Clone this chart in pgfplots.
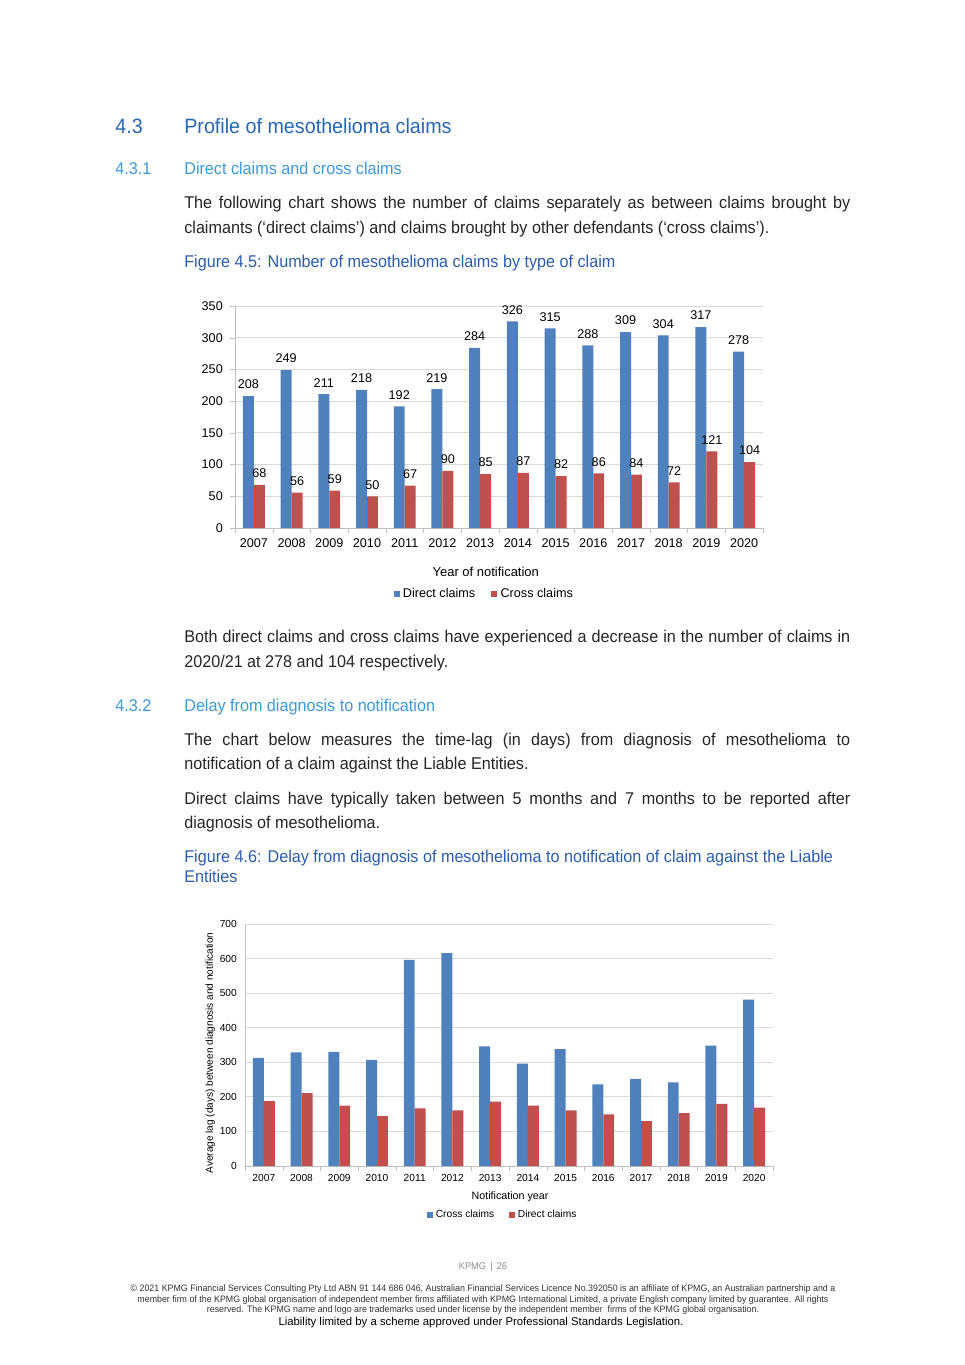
\documentclass[border=0pt]{standalone}
\usepackage{fontspec}
\setmainfont{Liberation Sans}
\newfontfamily\bodyfont{Liberation Sans}[FakeStretch=0.95]
\newfontfamily\chartfont{Liberation Sans}
\usepackage{pgfplots}
\usepackage{pgfplotstable}
\pgfplotsset{compat=1.18}

\definecolor{barblue}{HTML}{4F81BD}
\definecolor{barred}{HTML}{C0504D}
\definecolor{headblue}{HTML}{2767B4}
\definecolor{subblue}{HTML}{3D9AD6}
\definecolor{capblue}{HTML}{2C5DAA}
\definecolor{bodytext}{HTML}{262626}
\definecolor{gridgray}{HTML}{D9D9D9}
\definecolor{axisgray}{HTML}{BFBFBF}

\newcommand\body{\bodyfont\fontsize{10.5}{15}\selectfont\color{bodytext}}
\newcommand\jline[1]{\makebox[410.8pt][s]{#1}}
\newcommand\cfa{\chartfont\fontsize{7.8}{9.4}\selectfont}
\newcommand\cfb{\chartfont\fontsize{6.3}{7.6}\selectfont}

% number of claims by type
\pgfplotstableread{
x direct cross
0 208 68
1 249 56
2 211 59
3 218 50
4 192 67
5 219 90
6 284 85
7 326 87
8 315 82
9 288 86
10 309 84
11 304 72
12 317 121
13 278 104
}\claimsdata

% average lag (days) between diagnosis and notification
\pgfplotstableread{
x cross direct
0 313 188
1 329 211
2 330 175
3 307 144
4 596 167
5 616 161
6 346 186
7 296 175
8 338 161
9 236 149
10 252 130
11 242 153
12 348 180
13 481 169
}\lagdata

\pgfplotsset{
  /pgf/number format/assume math mode=true,
  excelbars/.style={
    scale only axis,
    width=325.7pt,
    ybar=0pt, bar width=0.29,
    legend image code/.code={\fill[##1] (0pt,-1.8pt) rectangle (3.6pt,1.8pt);},
    xmin=-0.5, xmax=13.5, ymin=0,
    xtick={0,...,13},
    xticklabels={2007,2008,2009,2010,2011,2012,2013,2014,2015,2016,2017,2018,2019,2020},
    minor xtick={-0.5,0.5,...,13.5},
    axis x line*=bottom, axis y line*=left,
    axis line style={axisgray},
    ymajorgrids, grid style={gridgray, line width=0.5pt},
    tick align=outside,
    major x tick style={draw=none},
    minor x tick style={axisgray},
    minor tick length=3pt,
    legend columns=2,
  },
}

\begin{document}
\begin{tikzpicture}
\begin{scope}[x=0.61685pt,y=-0.61685pt]
\useasboundingbox (0,0) rectangle (965,1365);
\fill[white] (0,0) rectangle (965,1365);
\coordinate (c1) at (235,528);
\coordinate (c2) at (245,1166);

% headings
\node[anchor=mid west, inner sep=0, text=headblue] at (115,129.5) {\bodyfont\fontsize{12.8}{15}\selectfont 4.3};
\node[anchor=mid west, inner sep=0, text=headblue] at (184,129.5) {\bodyfont\fontsize{12.8}{15}\selectfont Profile of mesothelioma claims};
\node[anchor=mid west, inner sep=0, text=subblue] at (115,170) {\bodyfont\fontsize{10.5}{15}\selectfont 4.3.1};
\node[anchor=mid west, inner sep=0, text=subblue] at (184,170) {\bodyfont\fontsize{10.5}{15}\selectfont Direct claims and cross claims};

\node[anchor=mid west, inner sep=0] at (184,204) {\body\jline{The following chart shows the number of claims separately as between claims brought by}};
\node[anchor=mid west, inner sep=0] at (184,229) {\body claimants (‘direct claims’) and claims brought by other defendants (‘cross claims’).};
\node[anchor=mid west, inner sep=0, text=capblue] at (184,263) {\bodyfont\fontsize{10.5}{15}\selectfont Figure 4.5: Number of mesothelioma claims by type of claim};

\node[anchor=mid west, inner sep=0] at (184,638) {\body\jline{Both direct claims and cross claims have experienced a decrease in the number of claims in}};
\node[anchor=mid west, inner sep=0] at (184,663) {\body 2020/21 at 278 and 104 respectively.};

\node[anchor=mid west, inner sep=0, text=subblue] at (115,707) {\bodyfont\fontsize{10.5}{15}\selectfont 4.3.2};
\node[anchor=mid west, inner sep=0, text=subblue] at (184,707) {\bodyfont\fontsize{10.5}{15}\selectfont Delay from diagnosis to notification};

\node[anchor=mid west, inner sep=0] at (184,741) {\body\jline{The chart below measures the time-lag (in days) from diagnosis of mesothelioma to}};
\node[anchor=mid west, inner sep=0] at (184,765) {\body notification of a claim against the Liable Entities.};
\node[anchor=mid west, inner sep=0] at (184,800) {\body\jline{Direct claims have typically taken between 5 months and 7 months to be reported after}};
\node[anchor=mid west, inner sep=0] at (184,824) {\body diagnosis of mesothelioma.};

\node[anchor=mid west, inner sep=0, text=capblue] at (184,858) {\bodyfont\fontsize{10.5}{15}\selectfont Figure 4.6: Delay from diagnosis of mesothelioma to notification of claim against the Liable};
\node[anchor=mid west, inner sep=0, text=capblue] at (184,878) {\bodyfont\fontsize{10.5}{15}\selectfont Entities};

% footer
\node[inner sep=0, text=black!45] at (483,1267) {\bodyfont\fontsize{6}{7}\selectfont KPMG \,|\, 26};
\node[inner sep=0, align=center, text=black!80, font={\bodyfont\fontsize{5.74}{6.5}\selectfont}] at (483,1300)
  {© 2021 KPMG Financial Services Consulting Pty Ltd ABN 91 144 686 046, Australian Financial Services Licence No.392050 is an affiliate of KPMG, an Australian partnership and a\\
   member firm of the KPMG global organisation of independent member firms affiliated with KPMG International Limited, a private English company limited by guarantee. All rights\\
   reserved. The KPMG name and logo are trademarks used under license by the independent member \ firms of the KPMG global organisation.};
\node[inner sep=0] at (481,1322.5) {\chartfont\fontsize{7}{8}\selectfont Liability limited by a scheme approved under Professional Standards Legislation.};
\end{scope}

% Figure 4.5
\begin{axis}[
  excelbars,
  at={(c1)}, anchor=south west,
  height=136.9pt,
  ymax=350, ytick={0,50,...,350},
  major tick length=3pt,
  ytick style={axisgray},
  ticklabel style={font=\cfa},
  xticklabel style={yshift=0pt},
  yticklabel style={xshift=-1pt},
  nodes near coords,
  every node near coord/.append style={font=\cfa, text=black, yshift=0.8pt},
  xlabel={Year of notification},
  xlabel style={at={(axis description cs:0.475,-0.197)}, anchor=center, font=\chartfont\fontsize{8}{9.6}\selectfont},
  legend style={at={(0.4735,-0.296)}, anchor=center, draw=none, font=\cfa,
    /tikz/every even column/.append style={column sep=8pt}},
]
\addplot[fill=barblue, draw=none] table[x=x, y=direct] {\claimsdata};
\addplot[fill=barred, draw=none] table[x=x, y=cross] {\claimsdata};
\legend{Direct claims, Cross claims}
\end{axis}

% Figure 4.6
\begin{axis}[
  excelbars,
  at={(c2)}, anchor=south west,
  height=149.3pt,
  ymax=700, ytick={0,100,...,700},
  major tick length=0pt,
  ticklabel style={font=\cfb},
  xticklabel style={yshift=-1.5pt},
  yticklabel style={xshift=-1.5pt},
  xlabel={Notification year},
  xlabel style={at={(axis description cs:0.502,-0.128)}, anchor=center, font=\chartfont\fontsize{6.6}{8}\selectfont},
  ylabel={Average lag (days) between diagnosis and notification},
  ylabel style={at={(axis description cs:-0.066,0.467)}, anchor=center, font=\chartfont\fontsize{6.2}{7.4}\selectfont},
  legend style={at={(0.489,-0.202)}, anchor=center, draw=none, font=\cfb,
    /tikz/every even column/.append style={column sep=7pt}},
]
\addplot[fill=barblue, draw=none] table[x=x, y=cross] {\lagdata};
\addplot[fill=barred, draw=none] table[x=x, y=direct] {\lagdata};
\legend{Cross claims, Direct claims}
\end{axis}
\end{tikzpicture}
\end{document}
